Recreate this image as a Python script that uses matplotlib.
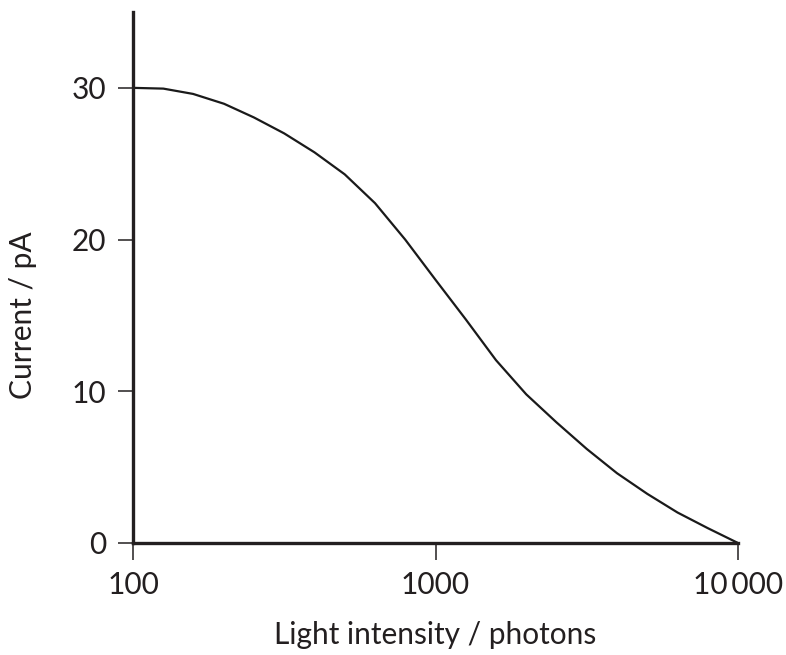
import matplotlib
matplotlib.use("Agg")
import matplotlib.pyplot as plt
from matplotlib.ticker import FixedLocator, FixedFormatter, NullLocator

intensity = [100, 126, 158, 200, 251, 316, 398, 501, 631, 794, 1000,
             1259, 1585, 1995, 2512, 3162, 3981, 5012, 6310, 7943, 10000]
current = [30.0, 29.95, 29.6, 28.95, 28.05, 27.0, 25.75, 24.3, 22.4, 20.0, 17.35,
           14.74, 12.05, 9.8, 7.95, 6.2, 4.6, 3.24, 2.01, 0.98, 0.0]

x_ticks = [100, 1000, 10000]
x_tick_labels = ["100", "1000", "10\u2009000"]
y_ticks = [0, 10, 20, 30]

plt.rcParams["font.family"] = ["Lato", "DejaVu Sans"]

fig = plt.figure(figsize=(7.86, 6.55), dpi=100)
ax = fig.add_axes([133 / 786, 1 - 543 / 655, (738 - 133) / 786, (543 - 12) / 655])

ax.plot(intensity, current, color="#1a1a1a", linewidth=1.6, solid_capstyle="butt")

ax.set_xscale("log")
ax.set_xlim(100, 10000)
ax.set_ylim(0, 35)
ax.xaxis.set_major_locator(FixedLocator(x_ticks))
ax.xaxis.set_major_formatter(FixedFormatter(x_tick_labels))
ax.xaxis.set_minor_locator(NullLocator())
ax.set_yticks(y_ticks)

for side in ("top", "right"):
    ax.spines[side].set_visible(False)
for side in ("left", "bottom"):
    ax.spines[side].set_linewidth(2.4)
    ax.spines[side].set_color("#231f20")

ax.tick_params(axis="x", direction="out", length=12, width=1.1, pad=8,
               labelsize=21.5, colors="#231f20")
ax.tick_params(axis="y", direction="out", length=11, width=1.1, pad=8,
               labelsize=21.5, colors="#231f20")

ax.set_xlabel("Light intensity / photons", fontsize=21.5, color="#231f20", labelpad=16)
ax.set_ylabel("Current / pA", fontsize=21.5, color="#231f20")
# label is centred on the 0-30 range, not the whole spine
ax.yaxis.set_label_coords((37 - 133) / 605, 15 / 35)

fig.savefig("out.png", dpi=100)
